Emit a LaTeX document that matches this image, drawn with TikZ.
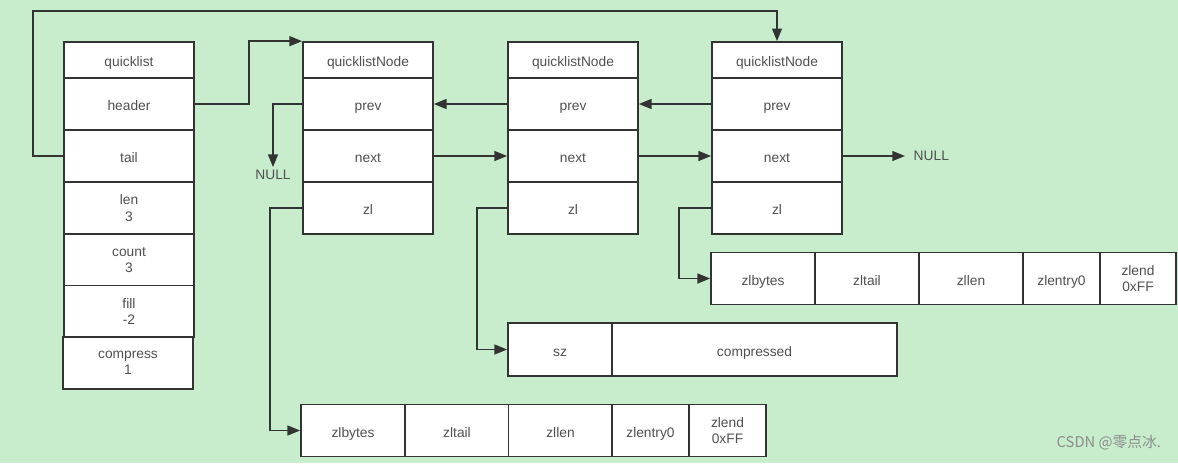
\documentclass[tikz,border=0pt]{standalone}
\usepackage{fontspec}
\setmainfont{Liberation Sans}
\newfontfamily\cjkfont{Noto Sans CJK SC}
\usetikzlibrary{arrows.meta}

\definecolor{bggreen}{HTML}{C7EDCC}
\definecolor{linegray}{HTML}{333333}
\definecolor{textgray}{HTML}{505050}

\tikzset{
	cell/.style={draw=linegray, fill=white, line width=1.2pt, inner sep=0pt,
		align=center, text=textgray, font=\fontsize{9.8}{11.5}\selectfont,
		text height=1.8ex, text depth=0ex,
		minimum width=3.25cm, minimum height=1.3cm},
	twoline/.style={text height={}, text depth={}},
	titlecell/.style={cell, minimum height=0.9cm},
	zcell/.style={cell, minimum width=2.6cm, minimum height=1.3cm},
	zsmall/.style={cell, minimum width=1.925cm, minimum height=1.3cm},
	ptr/.style={draw=linegray, line width=1.2pt, -{Triangle[length=9pt,width=7pt]}},
	lbl/.style={text=textgray, font=\fontsize{9.8}{11.5}\selectfont}
}

\begin{document}
\begin{tikzpicture}[x=0.025cm, y=-0.025cm]
	\fill[bggreen] (0,0) rectangle (1178,463);
	\useasboundingbox (0,0) rectangle (1178,463);

	% quicklist
	\node[titlecell] (ql) at (129,60) {quicklist};
	\node[cell] (header) at (129,104) {header};
	\node[cell] (tail) at (129,156) {tail};
	\node[cell, twoline] (len) at (129,208) {len\\3};
	\node[cell, twoline] (count) at (129,260) {count\\3};
	\node[cell, twoline] (fill) at (129,311.5) {fill\\-2};
	\node[cell, twoline] (compress) at (128,363) {compress\\1};

	% quicklistNode 1
	\node[titlecell] (n1t) at (368,60) {quicklistNode};
	\node[cell] (n1p) at (368,104) {prev};
	\node[cell] (n1n) at (368,156) {next};
	\node[cell] (n1z) at (368,208) {zl};

	% quicklistNode 2
	\node[titlecell] (n2t) at (573,60) {quicklistNode};
	\node[cell] (n2p) at (573,104) {prev};
	\node[cell] (n2n) at (573,156) {next};
	\node[cell] (n2z) at (573,208) {zl};

	% quicklistNode 3
	\node[titlecell] (n3t) at (777,60) {quicklistNode};
	\node[cell] (n3p) at (777,104) {prev};
	\node[cell] (n3n) at (777,156) {next};
	\node[cell] (n3z) at (777,208) {zl};

	\node[lbl, inner sep=2pt] (null1) at (273,175) {NULL};
	\node[lbl, anchor=west, inner xsep=6pt] (null2) at (905,156) {NULL};

	% ziplist of node 1
	\node[zcell] (zb1) at (353,430.5) {zlbytes};
	\node[zcell] (zt1) at (457,430.5) {zltail};
	\node[zcell] (zn1) at (560.5,430.5) {zllen};
	\node[zsmall] (ze1) at (650.5,430.5) {zlentry0};
	\node[zsmall, twoline] (zd1) at (727.5,430.5) {zlend\\0xFF};

	% compressed node 2
	\node[zcell, minimum height=1.325cm] (sz) at (560,349.5) {sz};
	\node[cell, minimum width=7.125cm, minimum height=1.325cm] (cmp) at (754.5,349.5) {compressed};

	% ziplist of node 3
	\node[zcell] (zb2) at (763,278.5) {zlbytes};
	\node[zcell] (zt2) at (867,278.5) {zltail};
	\node[zcell] (zn2) at (971,278.5) {zllen};
	\node[zsmall] (ze2) at (1061.5,278.5) {zlentry0};
	\node[zsmall, twoline, minimum width=1.9cm] (zd2) at (1138,278.5) {zlend\\0xFF};

	\draw[ptr] (header.east) -- ++(54,0) |- (n1t.north west);
	\draw[ptr] (tail.west) -- ++(-30,0) -- ++(0,-145) -| (n3t.north);

	\draw[ptr] (n1p.west) -| (null1.north);
	\draw[ptr] (n2p.west) -- (n1p.east);
	\draw[ptr] (n3p.west) -- (n2p.east);
	\draw[ptr] (n1n.east) -- (n2n.west);
	\draw[ptr] (n2n.east) -- (n3n.west);
	\draw[ptr] (n3n.east) -- (null2.west);

	\draw[ptr] (n1z.west) -- ++(-32,0) |- (zb1.west);
	\draw[ptr] (n2z.west) -- ++(-30,0) |- (sz.west);
	\draw[ptr] (n3z.west) -- ++(-32,0) |- (zb2.west);

	\node[anchor=east, text=black!45, font=\cjkfont\fontsize{10.5}{12}\selectfont] (mark) at (1166,443) {CSDN @零点冰.};
\end{tikzpicture}
\end{document}
